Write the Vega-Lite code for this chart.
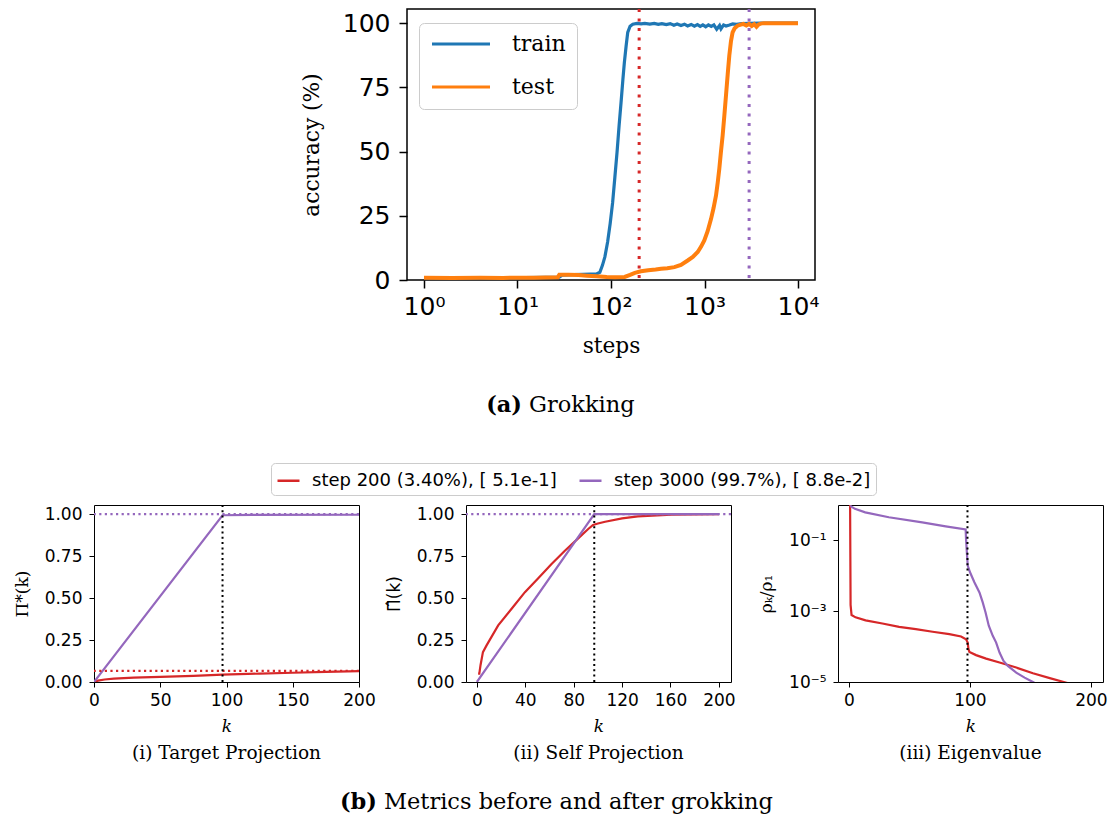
{
  "$schema": "https://vega.github.io/schema/vega-lite/v6.json",
  "background": "white",
  "padding": {"left": 12, "top": 6, "right": 0, "bottom": 0},
  "bounds": "flush",
  "spacing": 248,
  "resolve": {"scale": {"color": "independent"}, "legend": {"color": "independent"}},
  "config": {
    "view": {"stroke": null},
    "axis": {"domain": false, "grid": false, "tickColor": "black", "labelColor": "black", "titleColor": "black", "labelFont": "DejaVu Sans", "titleFont": "DejaVu Serif", "titleFontWeight": "normal", "labelFlush": false, "labelOverlap": false, "labelFontSize": 17, "tickSize": 5, "tickWidth": 1, "labelPadding": 5, "titleFontSize": 17},
    "title": {"font": "DejaVu Serif", "fontSize": 18.5, "fontWeight": "normal", "orient": "bottom", "anchor": "middle", "offset": 10, "color": "black"}
  },
  "datasets": {
    "acc": [
      {"step": 1, "acc": 0.8, "series": "train"}, {"step": 2, "acc": 0.9, "series": "train"}, {"step": 3, "acc": 0.8, "series": "train"}, {"step": 5, "acc": 0.9, "series": "train"}, {"step": 8, "acc": 0.8, "series": "train"}, {"step": 12, "acc": 0.9, "series": "train"}, {"step": 20, "acc": 1.0, "series": "train"}, {"step": 28, "acc": 1.1, "series": "train"}, {"step": 30, "acc": 1.9, "series": "train"}, {"step": 40, "acc": 2.1, "series": "train"}, {"step": 50, "acc": 2.2, "series": "train"}, {"step": 60, "acc": 2.3, "series": "train"}, {"step": 70, "acc": 2.4, "series": "train"}, {"step": 76, "acc": 3.0, "series": "train"}, {"step": 81, "acc": 5.7, "series": "train"}, {"step": 86, "acc": 9.0, "series": "train"}, {"step": 92, "acc": 14.8, "series": "train"}, {"step": 98, "acc": 22, "series": "train"}, {"step": 104, "acc": 30, "series": "train"}, {"step": 110, "acc": 40, "series": "train"}, {"step": 116, "acc": 49.7, "series": "train"}, {"step": 122, "acc": 60, "series": "train"}, {"step": 128, "acc": 69, "series": "train"}, {"step": 134, "acc": 78, "series": "train"}, {"step": 139, "acc": 84.7, "series": "train"}, {"step": 145, "acc": 91, "series": "train"}, {"step": 151, "acc": 96.4, "series": "train"}, {"step": 160, "acc": 98.8, "series": "train"}, {"step": 171, "acc": 99.6, "series": "train"}, {"step": 190, "acc": 99.9, "series": "train"}, {"step": 210, "acc": 99.7, "series": "train"}, {"step": 230, "acc": 99.9, "series": "train"}, {"step": 260, "acc": 99.6, "series": "train"}, {"step": 290, "acc": 99.9, "series": "train"}, {"step": 320, "acc": 99.5, "series": "train"}, {"step": 350, "acc": 99.8, "series": "train"}, {"step": 390, "acc": 99.4, "series": "train"}, {"step": 430, "acc": 99.8, "series": "train"}, {"step": 470, "acc": 99.2, "series": "train"}, {"step": 510, "acc": 99.7, "series": "train"}, {"step": 560, "acc": 99.1, "series": "train"}, {"step": 610, "acc": 99.6, "series": "train"}, {"step": 660, "acc": 98.9, "series": "train"}, {"step": 720, "acc": 99.5, "series": "train"}, {"step": 780, "acc": 98.8, "series": "train"}, {"step": 840, "acc": 99.4, "series": "train"}, {"step": 900, "acc": 98.7, "series": "train"}, {"step": 960, "acc": 99.3, "series": "train"}, {"step": 1030, "acc": 98.6, "series": "train"}, {"step": 1100, "acc": 99.3, "series": "train"}, {"step": 1180, "acc": 98.7, "series": "train"}, {"step": 1260, "acc": 99.3, "series": "train"}, {"step": 1350, "acc": 97.6, "series": "train"}, {"step": 1450, "acc": 99.1, "series": "train"}, {"step": 1500, "acc": 97.8, "series": "train"}, {"step": 1600, "acc": 99.3, "series": "train"}, {"step": 1700, "acc": 98.9, "series": "train"}, {"step": 1850, "acc": 99.3, "series": "train"}, {"step": 2000, "acc": 99.7, "series": "train"}, {"step": 2200, "acc": 99.5, "series": "train"}, {"step": 2500, "acc": 99.8, "series": "train"}, {"step": 3000, "acc": 99.9, "series": "train"}, {"step": 4000, "acc": 100, "series": "train"}, {"step": 10000, "acc": 100, "series": "train"},
      {"step": 1, "acc": 0.9, "series": "test"}, {"step": 2, "acc": 0.8, "series": "test"}, {"step": 4, "acc": 0.9, "series": "test"}, {"step": 7, "acc": 0.8, "series": "test"}, {"step": 10, "acc": 0.9, "series": "test"}, {"step": 15, "acc": 0.9, "series": "test"}, {"step": 20, "acc": 1.0, "series": "test"}, {"step": 27, "acc": 1.1, "series": "test"}, {"step": 28, "acc": 2.0, "series": "test"}, {"step": 35, "acc": 2.0, "series": "test"}, {"step": 45, "acc": 1.9, "series": "test"}, {"step": 55, "acc": 1.7, "series": "test"}, {"step": 70, "acc": 1.5, "series": "test"}, {"step": 90, "acc": 1.2, "series": "test"}, {"step": 110, "acc": 1.1, "series": "test"}, {"step": 140, "acc": 1.2, "series": "test"}, {"step": 160, "acc": 2.0, "series": "test"}, {"step": 180, "acc": 2.8, "series": "test"}, {"step": 209, "acc": 3.4, "series": "test"}, {"step": 250, "acc": 3.8, "series": "test"}, {"step": 300, "acc": 4.1, "series": "test"}, {"step": 343, "acc": 4.4, "series": "test"}, {"step": 400, "acc": 4.6, "series": "test"}, {"step": 476, "acc": 5.0, "series": "test"}, {"step": 560, "acc": 5.9, "series": "test"}, {"step": 661, "acc": 7.6, "series": "test"}, {"step": 750, "acc": 9.0, "series": "test"}, {"step": 846, "acc": 10.9, "series": "test"}, {"step": 920, "acc": 13, "series": "test"}, {"step": 995, "acc": 15.4, "series": "test"}, {"step": 1080, "acc": 19, "series": "test"}, {"step": 1175, "acc": 23.8, "series": "test"}, {"step": 1250, "acc": 28, "series": "test"}, {"step": 1328, "acc": 32.9, "series": "test"}, {"step": 1385, "acc": 38, "series": "test"}, {"step": 1440, "acc": 43.3, "series": "test"}, {"step": 1500, "acc": 50, "series": "test"}, {"step": 1563, "acc": 56.2, "series": "test"}, {"step": 1630, "acc": 64, "series": "test"}, {"step": 1697, "acc": 71.8, "series": "test"}, {"step": 1770, "acc": 80, "series": "test"}, {"step": 1841, "acc": 87.3, "series": "test"}, {"step": 1920, "acc": 93, "series": "test"}, {"step": 1997, "acc": 96.4, "series": "test"}, {"step": 2100, "acc": 98, "series": "test"}, {"step": 2258, "acc": 99, "series": "test"}, {"step": 2400, "acc": 99.3, "series": "test"}, {"step": 2600, "acc": 99.7, "series": "test"}, {"step": 2800, "acc": 99.1, "series": "test"}, {"step": 3000, "acc": 99.7, "series": "test"}, {"step": 3200, "acc": 98.9, "series": "test"}, {"step": 3400, "acc": 99.6, "series": "test"}, {"step": 3600, "acc": 98.6, "series": "test"}, {"step": 3800, "acc": 99.5, "series": "test"}, {"step": 4000, "acc": 99.8, "series": "test"}, {"step": 4300, "acc": 100, "series": "test"}, {"step": 5000, "acc": 100, "series": "test"}, {"step": 10000, "acc": 100, "series": "test"}
    ],
    "target": [
      {"k": 0, "value": 0, "run": "step 200 (3.40%), [ 5.1e-1]"}, {"k": 3, "value": 0.008, "run": "step 200 (3.40%), [ 5.1e-1]"}, {"k": 8, "value": 0.015, "run": "step 200 (3.40%), [ 5.1e-1]"}, {"k": 15, "value": 0.02, "run": "step 200 (3.40%), [ 5.1e-1]"}, {"k": 30, "value": 0.026, "run": "step 200 (3.40%), [ 5.1e-1]"}, {"k": 50, "value": 0.031, "run": "step 200 (3.40%), [ 5.1e-1]"}, {"k": 75, "value": 0.037, "run": "step 200 (3.40%), [ 5.1e-1]"}, {"k": 97, "value": 0.044, "run": "step 200 (3.40%), [ 5.1e-1]"}, {"k": 125, "value": 0.05, "run": "step 200 (3.40%), [ 5.1e-1]"}, {"k": 150, "value": 0.055, "run": "step 200 (3.40%), [ 5.1e-1]"}, {"k": 175, "value": 0.06, "run": "step 200 (3.40%), [ 5.1e-1]"}, {"k": 200, "value": 0.065, "run": "step 200 (3.40%), [ 5.1e-1]"},
      {"k": 0, "value": 0, "run": "step 3000 (99.7%), [ 8.8e-2]"}, {"k": 97, "value": 0.993, "run": "step 3000 (99.7%), [ 8.8e-2]"}, {"k": 120, "value": 0.995, "run": "step 3000 (99.7%), [ 8.8e-2]"}, {"k": 200, "value": 0.996, "run": "step 3000 (99.7%), [ 8.8e-2]"}
    ],
    "self": [
      {"k": 1, "value": 0.05, "run": "step 200 (3.40%), [ 5.1e-1]"}, {"k": 2, "value": 0.05, "run": "step 200 (3.40%), [ 5.1e-1]"}, {"k": 3, "value": 0.1, "run": "step 200 (3.40%), [ 5.1e-1]"}, {"k": 5, "value": 0.178, "run": "step 200 (3.40%), [ 5.1e-1]"}, {"k": 8, "value": 0.218, "run": "step 200 (3.40%), [ 5.1e-1]"}, {"k": 17.6, "value": 0.337, "run": "step 200 (3.40%), [ 5.1e-1]"}, {"k": 28.7, "value": 0.436, "run": "step 200 (3.40%), [ 5.1e-1]"}, {"k": 39.7, "value": 0.535, "run": "step 200 (3.40%), [ 5.1e-1]"}, {"k": 50.7, "value": 0.618, "run": "step 200 (3.40%), [ 5.1e-1]"}, {"k": 61.7, "value": 0.703, "run": "step 200 (3.40%), [ 5.1e-1]"}, {"k": 72.7, "value": 0.782, "run": "step 200 (3.40%), [ 5.1e-1]"}, {"k": 83.7, "value": 0.855, "run": "step 200 (3.40%), [ 5.1e-1]"}, {"k": 92, "value": 0.911, "run": "step 200 (3.40%), [ 5.1e-1]"}, {"k": 96, "value": 0.935, "run": "step 200 (3.40%), [ 5.1e-1]"}, {"k": 100, "value": 0.944, "run": "step 200 (3.40%), [ 5.1e-1]"}, {"k": 106, "value": 0.954, "run": "step 200 (3.40%), [ 5.1e-1]"}, {"k": 120, "value": 0.974, "run": "step 200 (3.40%), [ 5.1e-1]"}, {"k": 133, "value": 0.986, "run": "step 200 (3.40%), [ 5.1e-1]"}, {"k": 161, "value": 0.996, "run": "step 200 (3.40%), [ 5.1e-1]"}, {"k": 200, "value": 1.0, "run": "step 200 (3.40%), [ 5.1e-1]"},
      {"k": 0, "value": 0, "run": "step 3000 (99.7%), [ 8.8e-2]"}, {"k": 97, "value": 1.0, "run": "step 3000 (99.7%), [ 8.8e-2]"}, {"k": 200, "value": 1.0, "run": "step 3000 (99.7%), [ 8.8e-2]"}
    ],
    "eigen": [
      {"k": 1, "value": 1.0, "run": "step 200 (3.40%), [ 5.1e-1]"}, {"k": 1.4, "value": 0.0015, "run": "step 200 (3.40%), [ 5.1e-1]"}, {"k": 2.2, "value": 0.00078, "run": "step 200 (3.40%), [ 5.1e-1]"}, {"k": 5.5, "value": 0.00067, "run": "step 200 (3.40%), [ 5.1e-1]"}, {"k": 13.8, "value": 0.00055, "run": "step 200 (3.40%), [ 5.1e-1]"}, {"k": 27.7, "value": 0.00045, "run": "step 200 (3.40%), [ 5.1e-1]"}, {"k": 41.5, "value": 0.00036, "run": "step 200 (3.40%), [ 5.1e-1]"}, {"k": 55.3, "value": 0.000312, "run": "step 200 (3.40%), [ 5.1e-1]"}, {"k": 69.2, "value": 0.000263, "run": "step 200 (3.40%), [ 5.1e-1]"}, {"k": 83, "value": 0.000225, "run": "step 200 (3.40%), [ 5.1e-1]"}, {"k": 92.7, "value": 0.000193, "run": "step 200 (3.40%), [ 5.1e-1]"}, {"k": 96.8, "value": 0.000162, "run": "step 200 (3.40%), [ 5.1e-1]"}, {"k": 98.2, "value": 0.00013, "run": "step 200 (3.40%), [ 5.1e-1]"}, {"k": 98.8, "value": 0.000085, "run": "step 200 (3.40%), [ 5.1e-1]"}, {"k": 99.6, "value": 0.0000708, "run": "step 200 (3.40%), [ 5.1e-1]"}, {"k": 105.1, "value": 0.0000575, "run": "step 200 (3.40%), [ 5.1e-1]"}, {"k": 113.4, "value": 0.0000457, "run": "step 200 (3.40%), [ 5.1e-1]"}, {"k": 124.5, "value": 0.0000355, "run": "step 200 (3.40%), [ 5.1e-1]"}, {"k": 138.3, "value": 0.0000256, "run": "step 200 (3.40%), [ 5.1e-1]"}, {"k": 152.1, "value": 0.0000176, "run": "step 200 (3.40%), [ 5.1e-1]"}, {"k": 166, "value": 0.0000129, "run": "step 200 (3.40%), [ 5.1e-1]"}, {"k": 179.8, "value": 0.0000095, "run": "step 200 (3.40%), [ 5.1e-1]"}, {"k": 200, "value": 0.0000062, "run": "step 200 (3.40%), [ 5.1e-1]"},
      {"k": 1, "value": 0.95, "run": "step 3000 (99.7%), [ 8.8e-2]"}, {"k": 5, "value": 0.78, "run": "step 3000 (99.7%), [ 8.8e-2]"}, {"k": 13.5, "value": 0.62, "run": "step 3000 (99.7%), [ 8.8e-2]"}, {"k": 33, "value": 0.45, "run": "step 3000 (99.7%), [ 8.8e-2]"}, {"k": 60.6, "value": 0.324, "run": "step 3000 (99.7%), [ 8.8e-2]"}, {"k": 80, "value": 0.25, "run": "step 3000 (99.7%), [ 8.8e-2]"}, {"k": 96.5, "value": 0.205, "run": "step 3000 (99.7%), [ 8.8e-2]"}, {"k": 96.8, "value": 0.11, "run": "step 3000 (99.7%), [ 8.8e-2]"}, {"k": 97.5, "value": 0.045, "run": "step 3000 (99.7%), [ 8.8e-2]"}, {"k": 98.2, "value": 0.0195, "run": "step 3000 (99.7%), [ 8.8e-2]"}, {"k": 100.1, "value": 0.0126, "run": "step 3000 (99.7%), [ 8.8e-2]"}, {"k": 103.7, "value": 0.0066, "run": "step 3000 (99.7%), [ 8.8e-2]"}, {"k": 107.9, "value": 0.0034, "run": "step 3000 (99.7%), [ 8.8e-2]"}, {"k": 110.6, "value": 0.00178, "run": "step 3000 (99.7%), [ 8.8e-2]"}, {"k": 112.9, "value": 0.00093, "run": "step 3000 (99.7%), [ 8.8e-2]"}, {"k": 115.6, "value": 0.00039, "run": "step 3000 (99.7%), [ 8.8e-2]"}, {"k": 118.9, "value": 0.000202, "run": "step 3000 (99.7%), [ 8.8e-2]"}, {"k": 121.7, "value": 0.00013, "run": "step 3000 (99.7%), [ 8.8e-2]"}, {"k": 124.5, "value": 0.0000679, "run": "step 3000 (99.7%), [ 8.8e-2]"}, {"k": 127.8, "value": 0.0000394, "run": "step 3000 (99.7%), [ 8.8e-2]"}, {"k": 131.4, "value": 0.0000284, "run": "step 3000 (99.7%), [ 8.8e-2]"}, {"k": 138.3, "value": 0.0000184, "run": "step 3000 (99.7%), [ 8.8e-2]"}, {"k": 145.2, "value": 0.0000133, "run": "step 3000 (99.7%), [ 8.8e-2]"}, {"k": 152.1, "value": 0.00001, "run": "step 3000 (99.7%), [ 8.8e-2]"}, {"k": 160.4, "value": 0.0000069, "run": "step 3000 (99.7%), [ 8.8e-2]"}, {"k": 180, "value": 0.0000032, "run": "step 3000 (99.7%), [ 8.8e-2]"}, {"k": 200, "value": 0.0000015, "run": "step 3000 (99.7%), [ 8.8e-2]"}
    ]
  },
  "vconcat": [
    {
      "bounds": "flush",
      "spacing": 107,
      "resolve": {"scale": {"color": "independent"}, "legend": {"color": "independent"}},
      "hconcat": [
        {"width": 206, "height": 1, "data": {"values": []}, "mark": "text"},
        {
          "width": 408,
          "height": 271,
          "view": {"stroke": "black", "strokeWidth": 1.5},
          "layer": [
            {
              "data": {"name": "acc"},
              "transform": [{"filter": "datum.series == 'train'"}],
              "mark": {"type": "line", "strokeWidth": 3.2, "clip": true},
              "encoding": {
                "x": {"field": "step", "type": "quantitative", "scale": {"type": "log", "domain": [0.658, 15197], "nice": false},
                  "axis": {"values": [1, 10, 100, 1000, 10000], "labelExpr": "datum.value == 1 ? '10⁰' : datum.value == 10 ? '10¹' : datum.value == 100 ? '10²' : datum.value == 1000 ? '10³' : '10⁴'", "labelFontSize": 25, "tickSize": 8, "tickWidth": 1.5, "labelPadding": 6, "title": "steps", "titleFontSize": 21.7, "titlePadding": 16}},
                "y": {"field": "acc", "type": "quantitative", "scale": {"domain": [0, 105.5], "nice": false},
                  "axis": {"values": [0, 25, 50, 75, 100], "labelFontSize": 25, "tickSize": 8, "tickWidth": 1.5, "labelPadding": 9, "title": "accuracy (%)", "titleFontSize": 21.7, "titlePadding": 19}},
                "color": {"field": "series", "type": "nominal", "scale": {"domain": ["train", "test"], "range": ["#1f77b4", "#ff7f0e"]},
                  "legend": {"title": null, "orient": "none", "legendX": 12, "legendY": 14, "direction": "vertical", "symbolType": "stroke", "symbolSize": 3364, "symbolStrokeWidth": 3.2, "labelFont": "DejaVu Serif", "labelFontSize": 22, "labelColor": "black", "labelOffset": 20, "clipHeight": 20, "rowPadding": 21, "padding": 11, "fillColor": "white", "strokeColor": "#cccccc", "cornerRadius": 5}}
              }
            },
            {
              "data": {"name": "acc"},
              "transform": [{"filter": "datum.series == 'test'"}],
              "mark": {"type": "line", "strokeWidth": 4, "clip": true},
              "encoding": {
                "x": {"field": "step", "type": "quantitative"},
                "y": {"field": "acc", "type": "quantitative"},
                "color": {"field": "series", "type": "nominal"}
              }
            },
            {
              "data": {"values": [{"step": 200}]},
              "mark": {"type": "rule", "color": "#d62728", "strokeWidth": 3, "strokeDash": [3, 6.5]},
              "encoding": {"x": {"field": "step", "type": "quantitative"}}
            },
            {
              "data": {"values": [{"step": 3000}]},
              "mark": {"type": "rule", "color": "#9467bd", "strokeWidth": 3, "strokeDash": [3, 6.5]},
              "encoding": {"x": {"field": "step", "type": "quantitative"}}
            }
          ]
        }
      ]
    },
    {
      "bounds": "flush",
      "spacing": 107,
      "hconcat": [
        {"width": 321, "height": 1, "data": {"values": []}, "mark": "text"},
        {
          "width": 7,
          "height": 296,
          "data": {"values": [{"part": "(a)"}, {"part": "Grokking"}]},
          "encoding": {
            "x": {"field": "part", "type": "nominal", "scale": {"type": "point", "padding": 0, "domain": ["(a)", "Grokking"]}, "axis": null},
            "text": {"field": "part", "type": "nominal"}
          },
          "layer": [
            {"transform": [{"filter": "datum.part == '(a)'"}], "mark": {"type": "text", "align": "right", "baseline": "middle", "fontWeight": "bold", "font": "DejaVu Serif", "fontSize": 22.5, "color": "black"}},
            {"transform": [{"filter": "datum.part == 'Grokking'"}], "mark": {"type": "text", "align": "left", "baseline": "middle", "font": "DejaVu Serif", "fontSize": 22.5, "color": "black"}}
          ]
        }
      ]
    },
    {
      "bounds": "flush",
      "spacing": 107,
      "resolve": {"scale": {"color": "independent"}, "legend": {"color": "independent"}},
      "hconcat": [
        {
          "width": 265,
          "height": 177,
          "view": {"stroke": "black", "strokeWidth": 1},
          "title": {"text": "(i) Target Projection"},
          "layer": [
            {
              "data": {"name": "target"},
              "mark": {"type": "line", "strokeWidth": 2.2, "clip": true},
              "encoding": {
                "x": {"field": "k", "type": "quantitative", "scale": {"domain": [0, 200], "nice": false}, "axis": {"values": [0, 50, 100, 150, 200], "title": "k", "titleFontStyle": "italic", "titlePadding": 10}},
                "y": {"field": "value", "type": "quantitative", "scale": {"domain": [0, 1.054], "nice": false}, "axis": {"values": [0, 0.25, 0.5, 0.75, 1], "format": ".2f", "labelPadding": 7, "title": "Π*(k)", "titlePadding": 13}},
                "color": {"field": "run", "type": "nominal", "scale": {"domain": ["step 200 (3.40%), [ 5.1e-1]", "step 3000 (99.7%), [ 8.8e-2]"], "range": ["#d62728", "#9467bd"]}, "legend": null}
              }
            },
            {
              "data": {"values": [{"level": 1.0}]},
              "mark": {"type": "rule", "color": "#9467bd", "strokeWidth": 2.2, "strokeDash": [2.2, 3.4]},
              "encoding": {"y": {"field": "level", "type": "quantitative"}}
            },
            {
              "data": {"values": [{"level": 0.066}]},
              "mark": {"type": "rule", "color": "#d62728", "strokeWidth": 2.2, "strokeDash": [2.2, 3.4]},
              "encoding": {"y": {"field": "level", "type": "quantitative"}}
            },
            {
              "data": {"values": [{"kstar": 97}]},
              "mark": {"type": "rule", "color": "black", "strokeWidth": 2, "strokeDash": [2, 3.3]},
              "encoding": {"x": {"field": "kstar", "type": "quantitative"}}
            }
          ]
        },
        {
          "width": 265,
          "height": 177,
          "view": {"stroke": "black", "strokeWidth": 1},
          "title": {"text": "(ii) Self Projection"},
          "layer": [
            {
              "data": {"name": "self"},
              "mark": {"type": "line", "strokeWidth": 2.2, "clip": true},
              "encoding": {
                "x": {"field": "k", "type": "quantitative", "scale": {"domain": [-9, 210], "nice": false}, "axis": {"values": [0, 40, 80, 120, 160, 200], "title": "k", "titleFontStyle": "italic", "titlePadding": 10}},
                "y": {"field": "value", "type": "quantitative", "scale": {"domain": [0, 1.054], "nice": false}, "axis": {"values": [0, 0.25, 0.5, 0.75, 1], "format": ".2f", "labelPadding": 7, "title": "Π̂(k)", "titleFont": "DejaVu Sans", "titlePadding": 13}},
                "color": {"field": "run", "type": "nominal", "scale": {"domain": ["step 200 (3.40%), [ 5.1e-1]", "step 3000 (99.7%), [ 8.8e-2]"], "range": ["#d62728", "#9467bd"]},
                  "legend": {"title": null, "orient": "none", "legendX": -195, "legendY": -42, "direction": "horizontal", "symbolType": "stroke", "symbolSize": 484, "symbolStrokeWidth": 2.5, "labelFont": "DejaVu Sans", "labelFontSize": 18, "labelColor": "black", "labelOffset": 11, "columnPadding": 17, "padding": 5, "labelLimit": 400, "fillColor": "white", "strokeColor": "#cccccc", "cornerRadius": 4}}
              }
            },
            {
              "data": {"values": [{"level": 1.0}]},
              "mark": {"type": "rule", "color": "#9467bd", "strokeWidth": 2.2, "strokeDash": [2.2, 3.4]},
              "encoding": {"y": {"field": "level", "type": "quantitative"}}
            },
            {
              "data": {"values": [{"kstar": 97}]},
              "mark": {"type": "rule", "color": "black", "strokeWidth": 2, "strokeDash": [2, 3.3]},
              "encoding": {"x": {"field": "kstar", "type": "quantitative"}}
            }
          ]
        },
        {
          "width": 265,
          "height": 177,
          "view": {"stroke": "black", "strokeWidth": 1},
          "title": {"text": "(iii) Eigenvalue"},
          "layer": [
            {
              "data": {"name": "eigen"},
              "mark": {"type": "line", "strokeWidth": 2.2, "clip": true},
              "encoding": {
                "x": {"field": "k", "type": "quantitative", "scale": {"domain": [-9, 210], "nice": false}, "axis": {"values": [0, 100, 200], "title": "k", "titleFontStyle": "italic", "titlePadding": 10}},
                "y": {"field": "value", "type": "quantitative", "scale": {"type": "log", "domain": [0.00001, 1], "nice": false}, "axis": {"values": [0.1, 0.001, 0.00001], "labelExpr": "datum.value > 0.01 ? '10⁻¹' : datum.value > 0.0001 ? '10⁻³' : '10⁻⁵'", "labelPadding": 7, "title": "ρₖ/ρ₁", "titlePadding": 13}},
                "color": {"field": "run", "type": "nominal", "scale": {"domain": ["step 200 (3.40%), [ 5.1e-1]", "step 3000 (99.7%), [ 8.8e-2]"], "range": ["#d62728", "#9467bd"]}, "legend": null}
              }
            },
            {
              "data": {"values": [{"kstar": 98}]},
              "mark": {"type": "rule", "color": "black", "strokeWidth": 2, "strokeDash": [2, 3.3]},
              "encoding": {"x": {"field": "kstar", "type": "quantitative"}}
            }
          ]
        }
      ]
    },
    {
      "bounds": "flush",
      "spacing": 107,
      "hconcat": [
        {"width": 176, "height": 1, "data": {"values": []}, "mark": "text"},
        {
          "width": 7,
          "height": 40,
          "data": {"values": [{"part": "(b)"}, {"part": "Metrics before and after grokking"}]},
          "encoding": {
            "x": {"field": "part", "type": "nominal", "scale": {"type": "point", "padding": 0, "domain": ["(b)", "Metrics before and after grokking"]}, "axis": null},
            "text": {"field": "part", "type": "nominal"}
          },
          "layer": [
            {"transform": [{"filter": "datum.part == '(b)'"}], "mark": {"type": "text", "align": "right", "baseline": "middle", "fontWeight": "bold", "font": "DejaVu Serif", "fontSize": 22.5, "dy": 29, "color": "black"}},
            {"transform": [{"filter": "datum.part != '(b)'"}], "mark": {"type": "text", "align": "left", "baseline": "middle", "font": "DejaVu Serif", "fontSize": 22.5, "dy": 29, "color": "black"}}
          ]
        }
      ]
    }
  ]
}
